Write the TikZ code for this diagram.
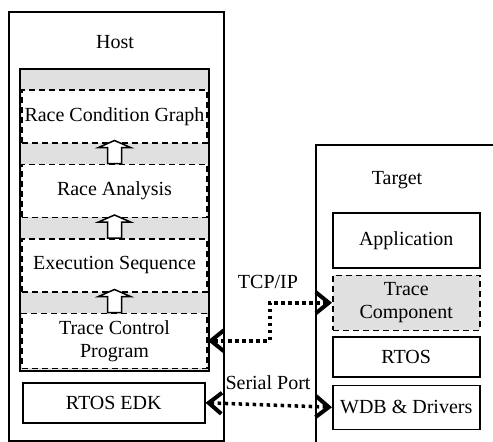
\documentclass[tikz,border=0pt]{standalone}
\usepackage{fontspec}
\setmainfont{Liberation Serif}
\usetikzlibrary{positioning,calc,arrows.meta}

\newcommand{\blockup}[2]{%
  \draw[block arrow] ($(#1.north)+(-7,0)$) -- ($(#2.south)+(-7,4)$)
    -- ($(#2.south)+(-16,4)$) -- ($(#2.south)+(0,-3)$)
    -- ($(#2.south)+(16,4)$) -- ($(#2.south)+(7,4)$)
    -- ($(#1.north)+(7,0)$) -- cycle;}

\begin{document}
\begin{tikzpicture}[x=1pt,y=-1pt,font=\fontsize{20}{23}\selectfont,
        node distance=20pt,
        outer box/.style={draw,line width=2pt,inner sep=0pt},
        main box/.style={draw,line width=1.5pt,fill=white,minimum width=147pt,inner sep=2pt},
        dash box/.style={draw,line width=1.5pt,dash pattern=on 6pt off 4pt,fill=white,
            minimum width=185pt,minimum height=53pt,align=center,inner sep=2pt},
        block arrow/.style={draw,line width=1.5pt,fill=white,line join=miter},
        link/.style={line width=3.5pt,dash pattern=on 3.5pt off 3.5pt,
            {Straight Barb[length=13pt,width=21pt,line width=0.5pt 1]}-{Straight Barb[length=13pt,width=21pt,line width=0.5pt 1]}}]

    \useasboundingbox (0,0) rectangle (493,442);

    % host side
    \node[outer box,anchor=north west,minimum width=215pt,minimum height=429pt] (host) at (8,11) {};
    \node (hostlbl) at (115,42) {Host};
    \node[outer box,anchor=north west,fill=black!12,minimum width=189pt,minimum height=302pt] (panel) at (19,68) {};

    \node[dash box,anchor=north] (rcg) at (114.5,89) {Race Condition Graph};
    \node[dash box] (ra) [below=of rcg] {Race Analysis};
    \node[dash box] (es) [below=of ra] {Execution Sequence};
    \node[dash box,minimum height=55pt] (tcp) [below=of es] {Trace Control\\Program};

    \blockup{ra}{rcg}
    \blockup{es}{ra}
    \blockup{tcp}{es}

    \node[main box,minimum width=182pt,minimum height=40pt,anchor=north west] (edk) at (22,382) {RTOS EDK};

    % target side
    \node[outer box,anchor=north west,minimum width=200pt,minimum height=320pt] (target) at (315,144) {};
    \node (targetlbl) at (397,180) {Target};

    \node[main box,minimum height=55pt,anchor=north west] (app) at (332,212) {Application};
    \node[main box,dash pattern=on 6pt off 4pt,fill=black!12,minimum height=55pt,align=center] (trc) [below=6pt of app] {Trace\\Component};
    \node[main box,minimum height=40pt] (rtos) [below=5pt of trc] {RTOS};
    \node[main box,minimum height=44pt] (wdb) [below=7pt of rtos] {WDB \& Drivers};

    % links
    \draw[link] (trc.west) -- ++(-62,0) |- (tcp.east);
    \draw[link] (edk.east) -- (wdb.west);
    \node (tcpip) at (268,282) {TCP/IP};
    \node (serial) at (268,383) {Serial Port};

\end{tikzpicture}
\end{document}
